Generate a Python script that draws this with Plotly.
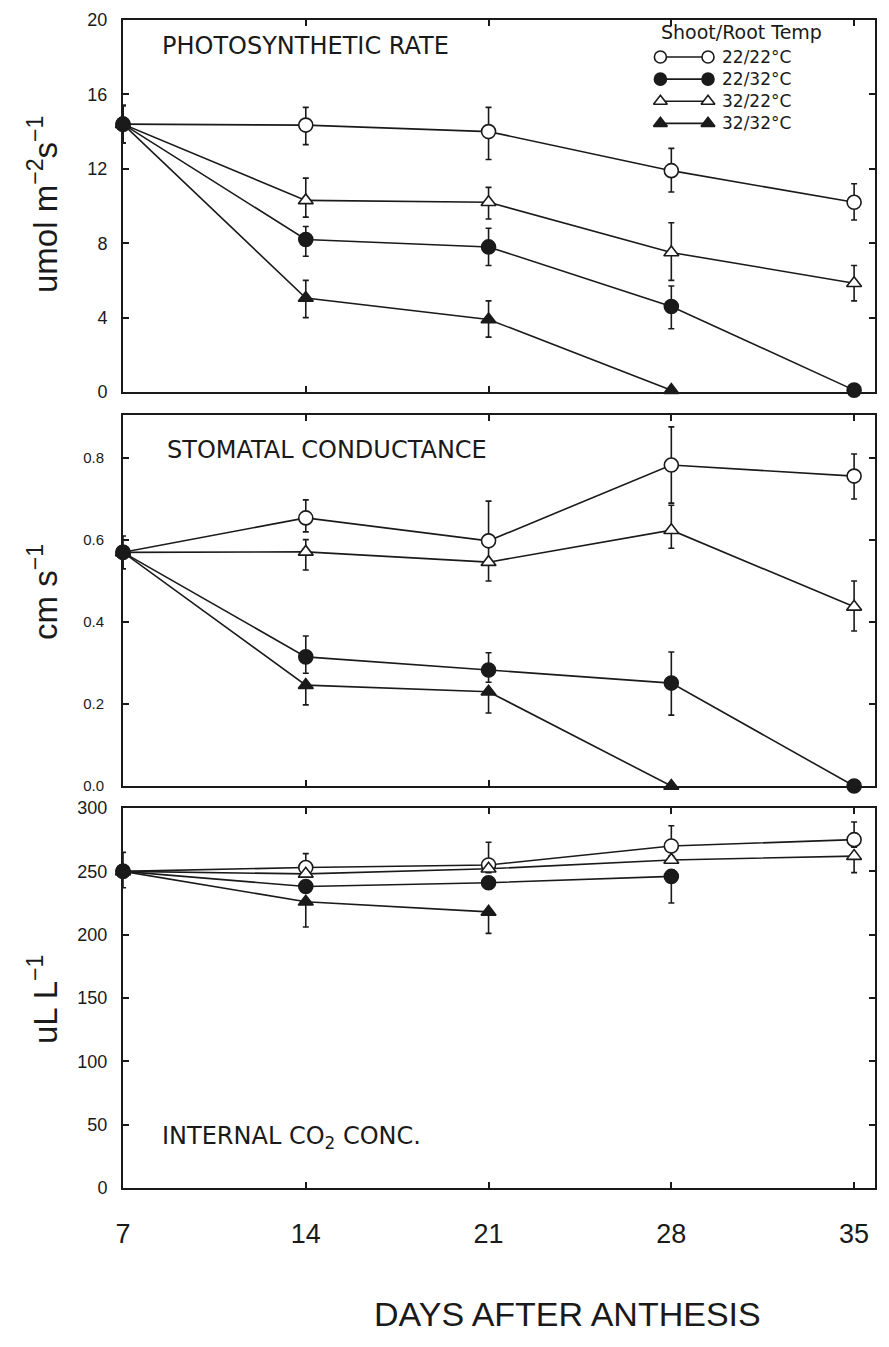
import plotly.graph_objects as go

# ---------------- data ----------------
days = [7, 14, 21, 28, 35]
treatments = ["22/22°C", "22/32°C", "32/22°C", "32/32°C"]

# Photosynthetic rate (umol m-2 s-1)
ps_22_22 = [14.4, 14.35, 14.0, 11.9, 10.2]
ps_22_32 = [14.4, 8.2, 7.8, 4.6, 0.1]
ps_32_22 = [14.4, 10.3, 10.2, 7.5, 5.85]
ps_32_32 = [14.4, 5.05, 3.9, 0.1, None]
ps_22_22_up = [1.0, 0.95, 1.3, 1.2, 1.0]
ps_22_22_dn = [1.0, 1.05, 1.5, 1.15, 0.95]
ps_22_32_up = [1.0, 0.7, 1.0, 1.1, 0]
ps_22_32_dn = [1.0, 0.9, 1.0, 1.2, 0]
ps_32_22_up = [1.0, 1.2, 0.8, 1.6, 0.95]
ps_32_22_dn = [1.0, 0.9, 0.9, 1.5, 0.95]
ps_32_32_up = [1.0, 0.95, 1.0, 0, 0]
ps_32_32_dn = [1.0, 1.05, 0.95, 0, 0]

# Stomatal conductance (cm s-1)
sc_22_22 = [0.57, 0.654, 0.598, 0.783, 0.756]
sc_22_32 = [0.57, 0.315, 0.283, 0.251, 0.0]
sc_32_22 = [0.57, 0.571, 0.546, 0.624, 0.437]
sc_32_32 = [0.57, 0.246, 0.23, 0.0, None]
sc_22_22_up = [0.04, 0.044, 0.097, 0.093, 0.054]
sc_22_22_dn = [0.04, 0.034, 0.05, 0.093, 0.056]
sc_22_32_up = [0.0, 0.051, 0.042, 0.076, 0]
sc_22_32_dn = [0.0, 0.04, 0.03, 0.078, 0]
sc_32_22_up = [0.0, 0.03, 0.0, 0.061, 0.063]
sc_32_22_dn = [0.04, 0.044, 0.046, 0.044, 0.059]
sc_32_32_up = [0.0, 0.0, 0.0, 0, 0]
sc_32_32_dn = [0.0, 0.048, 0.052, 0, 0]

# Internal CO2 concentration (uL L-1)
ci_22_22 = [250, 253, 255, 270, 275]
ci_22_32 = [250, 238, 241, 246, None]
ci_32_22 = [250, 248, 252, 259, 262]
ci_32_32 = [250, 226, 218, None, None]
ci_22_22_up = [15, 11, 18, 16, 14]
ci_22_22_dn = [13, 6, 6, 8, 6]
ci_22_32_up = [0, 0, 0, 0, 0]
ci_22_32_dn = [0, 0, 0, 21, 0]
ci_32_22_up = [0, 0, 0, 0, 0]
ci_32_22_dn = [0, 0, 0, 0, 13]
ci_32_32_up = [0, 0, 0, 0, 0]
ci_32_32_dn = [0, 20, 17, 0, 0]

symbols = ["circle-open", "circle", "triangle-up-open", "triangle-up"]

# ---------------- figure ----------------
# the page body has an 8px margin; the figure is sized to fit inside it
OFF = 8
FW, FH = 889 - 2 * OFF, 1347 - 2 * OFF
fig = go.Figure()

INK = "#1a1a1a"
FONT = "Liberation Sans"
LABEL_FONT = "DejaVu Sans"


def sx(px):
    return (px - OFF) / FW


def sy(py):
    return 1 - (py - OFF) / FH


def dom_y(top, bottom):
    return [sy(bottom), sy(top)]


panels = [
    dict(vals=[ps_22_22, ps_22_32, ps_32_22, ps_32_32],
         ups=[ps_22_22_up, ps_22_32_up, ps_32_22_up, ps_32_32_up],
         dns=[ps_22_22_dn, ps_22_32_dn, ps_32_22_dn, ps_32_32_dn],
         xa="x", ya="y"),
    dict(vals=[sc_22_22, sc_22_32, sc_32_22, sc_32_32],
         ups=[sc_22_22_up, sc_22_32_up, sc_32_22_up, sc_32_32_up],
         dns=[sc_22_22_dn, sc_22_32_dn, sc_32_22_dn, sc_32_32_dn],
         xa="x2", ya="y2"),
    dict(vals=[ci_22_22, ci_22_32, ci_32_22, ci_32_32],
         ups=[ci_22_22_up, ci_22_32_up, ci_32_22_up, ci_32_32_up],
         dns=[ci_22_22_dn, ci_22_32_dn, ci_32_22_dn, ci_32_32_dn],
         xa="x3", ya="y3"),
]

for p in panels:
    for i in range(4):
        filled = not symbols[i].endswith("open")
        fig.add_trace(go.Scatter(
            x=days, y=p["vals"][i], xaxis=p["xa"], yaxis=p["ya"],
            mode="lines+markers", name=treatments[i], showlegend=False,
            cliponaxis=False,
            line=dict(color=INK, width=1.6),
            marker=dict(symbol=symbols[i].replace("-open", ""),
                        size=14 if "circle" in symbols[i] else 13,
                        color=INK if filled else "white",
                        line=dict(color=INK, width=1.6)),
            error_y=dict(type="data", symmetric=False,
                         array=p["ups"][i], arrayminus=p["dns"][i],
                         color=INK, thickness=1.6, width=3),
        ))

# legend drawn on an auxiliary axis (layout coordinates, not data)
LEG_FONT = 17
LEG_STEP = 1.3 * LEG_FONT
LEG_TEXT_TOP = 46
LEG_TOP = LEG_TEXT_TOP + LEG_STEP / 2
leg_rows = [1, 2, 3, 4]
for i in range(4):
    filled = not symbols[i].endswith("open")
    fig.add_trace(go.Scatter(
        x=[0.12, 0.8], y=[leg_rows[i], leg_rows[i]], xaxis="x4", yaxis="y4",
        mode="lines+markers", showlegend=False, cliponaxis=False,
        line=dict(color=INK, width=1.6),
        marker=dict(symbol=symbols[i].replace("-open", ""), size=12,
                    color=INK if filled else "white",
                    line=dict(color=INK, width=1.6)),
    ))

xl, xr = sx(123), sx(875)
axis_common = dict(showline=True, linecolor=INK, linewidth=2, mirror="ticks",
                   ticks="inside", ticklen=6, tickwidth=1.5, tickcolor=INK,
                   showgrid=False, zeroline=False, automargin=False)
xrange = [7, 35.8]

fig.update_layout(
    width=FW, height=FH,
    margin=dict(l=0, r=0, t=0, b=0, pad=0, autoexpand=False),
    showlegend=False,
    paper_bgcolor="white", plot_bgcolor="white",
    font=dict(family=FONT, color=INK),
    xaxis=dict(domain=[xl, xr], anchor="y", range=xrange, tickvals=days,
               showticklabels=False, **axis_common),
    yaxis=dict(domain=dom_y(20, 392), anchor="x", range=[0, 20],
               tickvals=[0, 4, 8, 12, 16, 20], tickfont=dict(size=18),
               ticklabelstandoff=10, **axis_common),
    xaxis2=dict(domain=[xl, xr], anchor="y2", range=xrange, tickvals=days,
                showticklabels=False, **axis_common),
    yaxis2=dict(domain=dom_y(415, 786), anchor="x2", range=[0, 0.905],
                tickvals=[0, 0.2, 0.4, 0.6, 0.8], tickformat=".1f",
                tickfont=dict(size=15), ticklabelstandoff=14, **axis_common),
    xaxis3=dict(domain=[xl, xr], anchor="y3", range=xrange, tickvals=days,
                tickfont=dict(size=27), ticklabelstandoff=21, **axis_common),
    yaxis3=dict(domain=dom_y(808, 1188), anchor="x3", range=[0, 300],
                tickvals=[0, 50, 100, 150, 200, 250, 300], tickfont=dict(size=18),
                ticklabelstandoff=10, **axis_common),
    xaxis4=dict(domain=[sx(652), sx(722)], anchor="y4", range=[0, 1],
                visible=False),
    yaxis4=dict(domain=dom_y(LEG_TOP - LEG_STEP / 2, LEG_TOP + 3.5 * LEG_STEP),
                anchor="x4", range=[4.5, 0.5], visible=False),
)

ann = []
# legend texts
ann.append(dict(x=sx(660), y=sy(32), xref="paper", yref="paper",
                text="Shoot/Root Temp", showarrow=False, xanchor="left",
                yanchor="middle", borderpad=0,
                font=dict(size=19, family=LABEL_FONT, color=INK)))
ann.append(dict(x=sx(721), y=sy(LEG_TEXT_TOP), xref="paper", yref="paper",
                text="<br>".join(treatments), showarrow=False, xanchor="left",
                yanchor="top", align="left", borderpad=0,
                font=dict(size=LEG_FONT, family=LABEL_FONT, color=INK)))

# panel titles
ann.append(dict(x=sx(160), y=sy(46), xref="paper", yref="paper",
                text="PHOTOSYNTHETIC RATE", showarrow=False, xanchor="left",
                yanchor="middle", font=dict(size=24, family=LABEL_FONT, color=INK)))
ann.append(dict(x=sx(165), y=sy(450), xref="paper", yref="paper",
                text="STOMATAL CONDUCTANCE", showarrow=False, xanchor="left",
                yanchor="middle", font=dict(size=24, family=LABEL_FONT, color=INK)))
ann.append(dict(x=sx(160), y=sy(1137), xref="paper", yref="paper",
                text="INTERNAL CO<sub>2</sub> CONC.", showarrow=False, xanchor="left",
                yanchor="middle", font=dict(size=24, family=LABEL_FONT, color=INK)))

# axis titles
ann.append(dict(x=sx(43), y=sy(205), xref="paper", yref="paper",
                text="umol m<sup>−2</sup>s<sup>−1</sup>", showarrow=False, textangle=-90,
                xanchor="center", yanchor="middle",
                font=dict(size=33, family=FONT, color=INK)))
ann.append(dict(x=sx(43), y=sy(592), xref="paper", yref="paper",
                text="cm s<sup>−1</sup>", showarrow=False, textangle=-90,
                xanchor="center", yanchor="middle",
                font=dict(size=33, family=FONT, color=INK)))
ann.append(dict(x=sx(43), y=sy(1000), xref="paper", yref="paper",
                text="uL L<sup>−1</sup>", showarrow=False, textangle=-90,
                xanchor="center", yanchor="middle",
                font=dict(size=33, family=FONT, color=INK)))
ann.append(dict(x=sx(567), y=sy(1314), xref="paper", yref="paper",
                text="DAYS AFTER ANTHESIS", showarrow=False,
                xanchor="center", yanchor="middle",
                font=dict(size=34, family=FONT, color=INK)))

fig.update_layout(annotations=ann)

fig.write_html("out.html")
